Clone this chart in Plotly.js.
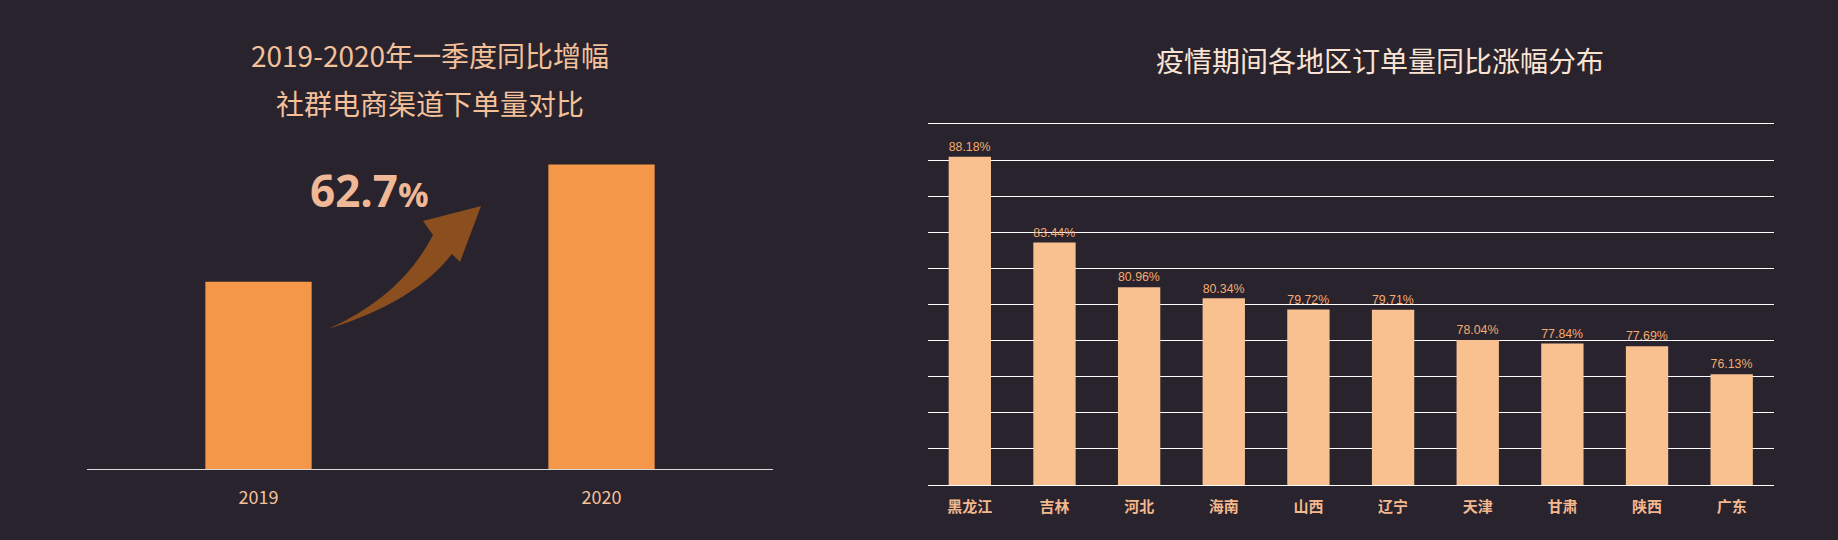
<!DOCTYPE html>
<html>
<head>
<meta charset="utf-8">
<script src="https://cdn.plot.ly/plotly-3.0.1.min.js"></script>
<style>
  html, body { margin: 0; padding: 0; background: #28232d; }
  #plot { width: 1838px; height: 540px; }
</style>
</head>
<body>
<div id="plot"></div>
<script>
// left chart: Q1 order volume, 2019 vs 2020 (2019 = 100)
var yearCats = ["2019", "2020"];
var yearVals = [100, 162.7];
var growthText = "62.7";

// right chart: YoY order growth by region during the epidemic
var regions = ["黑龙江", "吉林", "河北", "海南", "山西", "辽宁", "天津", "甘肃", "陕西", "广东"];
var regionVals = [88.18, 83.44, 80.96, 80.34, 79.72, 79.71, 78.04, 77.84, 77.69, 76.13];

var W = 1838, H = 540;
function px(x) { return x / W; }
function py(y) { return 1 - y / H; }

var cjk = "Noto Sans CJK SC, Microsoft YaHei, sans-serif";

var yearBars = {
  x: yearCats,
  y: yearVals,
  type: "bar",
  width: 0.31,
  marker: { color: "#f59748" },
  xaxis: "x",
  yaxis: "y",
  hoverinfo: "skip"
};

var regionBars = {
  x: regions,
  y: regionVals,
  type: "bar",
  width: 0.5,
  marker: { color: "#f9c190" },
  texttemplate: "%{y:.2f}%",
  textposition: "outside",
  cliponaxis: false,
  textfont: { family: "Liberation Sans, Arial", size: 13, color: "#f5aa6e" },
  xaxis: "x2",
  yaxis: "y2",
  hoverinfo: "skip"
};

// curved growth arrow between the two bars
var arrowPath =
  "M " + px(328) + "," + py(329) +
  " Q " + px(402) + "," + py(296) + " " + px(433) + "," + py(235) +
  " L " + px(423) + "," + py(221) +
  " L " + px(481) + "," + py(206) +
  " L " + px(460) + "," + py(262) +
  " L " + px(452) + "," + py(254) +
  " Q " + px(415) + "," + py(302) + " " + px(328) + "," + py(329) + " Z";

function label(x, y, text, font) {
  return {
    xref: "paper", yref: "paper",
    x: px(x), y: py(y),
    xanchor: "center", yanchor: "middle",
    text: text,
    showarrow: false,
    font: font
  };
}

var layout = {
  width: W,
  height: H,
  margin: { l: 0, r: 0, t: 0, b: 0 },
  paper_bgcolor: "#28232d",
  plot_bgcolor: "rgba(0,0,0,0)",
  showlegend: false,
  font: { family: cjk },
  xaxis: {
    domain: [px(87), px(773)],
    type: "category",
    range: [-0.5, 1.5],
    showline: true,
    linecolor: "#d9d9d9",
    linewidth: 1,
    showgrid: false,
    zeroline: false,
    ticks: "",
    ticklabelstandoff: 12,
    tickfont: { family: cjk, size: 18, color: "#f4c09a" },
    fixedrange: true
  },
  yaxis: {
    domain: [py(469), py(132)],
    range: [0, 180],
    visible: false,
    fixedrange: true
  },
  xaxis2: {
    domain: [px(927.5), px(1774)],
    anchor: "y2",
    type: "category",
    range: [-0.5, 9.5],
    showline: true,
    mirror: true,
    linecolor: "#ffffff",
    linewidth: 1,
    showgrid: false,
    zeroline: false,
    ticks: "",
    ticklabelstandoff: 8,
    tickfont: { family: cjk, size: 15, color: "#f4b88f", weight: "bold" },
    fixedrange: true
  },
  yaxis2: {
    domain: [py(485), py(124)],
    anchor: "x2",
    range: [70, 90],
    tick0: 70,
    dtick: 2,
    showgrid: true,
    gridcolor: "#ffffff",
    gridwidth: 1,
    showticklabels: false,
    zeroline: false,
    showline: false,
    ticks: "",
    fixedrange: true
  },
  shapes: [
    {
      type: "path",
      xref: "paper",
      yref: "paper",
      path: arrowPath,
      fillcolor: "#8b4e1e",
      line: { width: 0 }
    }
  ],
  annotations: [
    label(430, 55, "2019-2020年一季度同比增幅", { family: cjk, size: 28, color: "#f4c09a" }),
    label(430, 103, "社群电商渠道下单量对比", { family: cjk, size: 28, color: "#f4c09a" }),
    label(369, 190, "<b>" + growthText + "</b><span style='font-size:34px'><b>%</b></span>",
      { family: "Open Sans, Noto Sans, sans-serif", size: 44, color: "#f0b896" }),
    label(1380, 60, "疫情期间各地区订单量同比涨幅分布", { family: cjk, size: 28, color: "#fbe3d3" })
  ]
};

Plotly.newPlot("plot", [yearBars, regionBars], layout, { displayModeBar: false, staticPlot: true });
</script>
</body>
</html>
